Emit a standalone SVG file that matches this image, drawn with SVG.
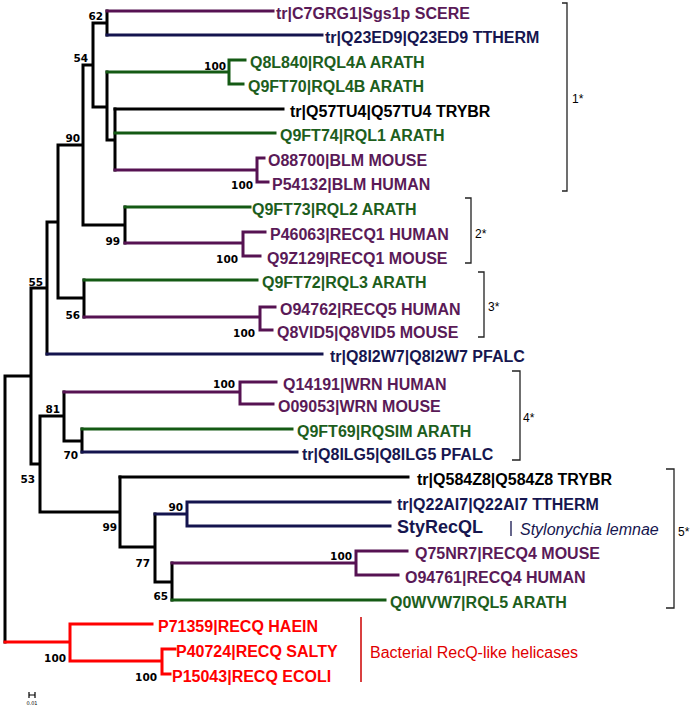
<svg xmlns="http://www.w3.org/2000/svg" width="692" height="710" viewBox="0 0 692 710">
<style>
.e{fill:none;stroke-width:3;stroke-linecap:square}
.k{stroke:#000}.p{stroke:#561252}.g{stroke:#145a14}.n{stroke:#14144e}.r{stroke:#ff0000}
.t{font-family:"Liberation Sans",Arial,sans-serif;font-weight:bold;font-size:16px}
.tp{fill:#5a1a57}.tg{fill:#1d5e1d}.tn{fill:#16164f}.tk{fill:#000}.tr{fill:#ff0000}
.b{font-family:"DejaVu Sans",sans-serif;font-weight:bold;font-size:10.5px;fill:#000;text-anchor:end}
.br{fill:none;stroke:#222;stroke-width:1.3}
.bl{font-family:"Liberation Sans",Arial,sans-serif;font-size:12px;fill:#000}
</style>
<rect width="692" height="710" fill="#fff"/>
<g id="connectors">
<path class="e k" d="M5,376V642M5,376H31M31,288V464M31,288H47M47,222V354M47,222H58M58,145V298M58,145H83M83,65V225M83,65H93M93,23V107M93,23H107M107,11V35M93,107H107M107,72V140M107,140H115M115,109V170M83,225H125M125,207V243M58,298H84M84,280V317M31,464H40M40,416V512M40,416H64M64,392V441M64,441H82M82,429V452M40,512H120M120,477V547M120,547H155M155,514V582M155,582H172M172,563V600"/>
<path class="e p" d="M107,11H273"/>
<path class="e n" d="M107,35H322"/>
<path class="e g" d="M107,72H229M229,60V84M229,60H245M229,84H243"/>
<path class="e k" d="M115,109H283"/>
<path class="e g" d="M115,133H275"/>
<path class="e p" d="M115,170H257M257,158V182M257,158H264M257,182H268"/>
<path class="e g" d="M125,207H250"/>
<path class="e p" d="M125,243H243M243,232V256M243,232H265M243,256H260"/>
<path class="e g" d="M84,280H257"/>
<path class="e p" d="M84,317H260M260,307V330M260,307H275M260,330H272"/>
<path class="e n" d="M47,354H322"/>
<path class="e p" d="M64,392H240M240,382V404M240,382H276M240,404H273"/>
<path class="e g" d="M82,429H292"/>
<path class="e n" d="M82,452H297"/>
<path class="e k" d="M120,477H408"/>
<path class="e n" d="M155,514H187M187,502V526M187,502H390M187,526H390"/>
<path class="e p" d="M172,563H356M356,551V575M356,551H407M356,575H398"/>
<path class="e g" d="M172,600H385"/>
<path class="e r" d="M5,642H70M70,624V661M70,624H152M70,661H162M162,649V674M162,649H175M162,674H170"/>
</g>
<g id="bootstrap">
<text class="b" x="103" y="20">62</text>
<text class="b" x="88" y="62">54</text>
<text class="b" x="80" y="142">90</text>
<text class="b" x="120" y="245">99</text>
<text class="b" x="43" y="286">55</text>
<text class="b" x="80" y="319">56</text>
<text class="b" x="60" y="413">81</text>
<text class="b" x="78" y="459">70</text>
<text class="b" x="35" y="483">53</text>
<text class="b" x="117" y="531">99</text>
<text class="b" x="150" y="567">77</text>
<text class="b" x="183" y="511">90</text>
<text class="b" x="168" y="600">65</text>
<text class="b" x="226" y="70">100</text>
<text class="b" x="253" y="189">100</text>
<text class="b" x="238" y="263">100</text>
<text class="b" x="255" y="337">100</text>
<text class="b" x="235" y="388">100</text>
<text class="b" x="352" y="560">100</text>
<text class="b" x="157" y="681">100</text>
<text class="b" x="66" y="662">100</text>
</g>
<g id="leaf-C7GRG1"><text class="t tp" x="276" y="19">tr|C7GRG1|Sgs1p SCERE</text></g>
<g id="leaf-Q23ED9"><text class="t tn" x="325" y="43">tr|Q23ED9|Q23ED9 TTHERM</text></g>
<g id="leaf-Q8L840"><text class="t tg" x="250" y="68">Q8L840|RQL4A ARATH</text></g>
<g id="leaf-Q9FT70"><text class="t tg" x="248" y="92">Q9FT70|RQL4B ARATH</text></g>
<g id="leaf-Q57TU4"><text class="t tk" x="290" y="117">tr|Q57TU4|Q57TU4 TRYBR</text></g>
<g id="leaf-Q9FT74"><text class="t tg" x="280" y="141">Q9FT74|RQL1 ARATH</text></g>
<g id="leaf-O88700"><text class="t tp" x="268" y="166">O88700|BLM MOUSE</text></g>
<g id="leaf-P54132"><text class="t tp" x="272" y="190">P54132|BLM HUMAN</text></g>
<g id="leaf-Q9FT73"><text class="t tg" x="252" y="215">Q9FT73|RQL2 ARATH</text></g>
<g id="leaf-P46063"><text class="t tp" x="270" y="240">P46063|RECQ1 HUMAN</text></g>
<g id="leaf-Q9Z129"><text class="t tp" x="267" y="264">Q9Z129|RECQ1 MOUSE</text></g>
<g id="leaf-Q9FT72"><text class="t tg" x="262" y="288">Q9FT72|RQL3 ARATH</text></g>
<g id="leaf-O94762"><text class="t tp" x="280" y="315">O94762|RECQ5 HUMAN</text></g>
<g id="leaf-Q8VID5"><text class="t tp" x="277" y="338">Q8VID5|Q8VID5 MOUSE</text></g>
<g id="leaf-Q8I2W7"><text class="t tn" x="330" y="362">tr|Q8I2W7|Q8I2W7 PFALC</text></g>
<g id="leaf-Q14191"><text class="t tp" x="283" y="390">Q14191|WRN HUMAN</text></g>
<g id="leaf-O09053"><text class="t tp" x="278" y="412">O09053|WRN MOUSE</text></g>
<g id="leaf-Q9FT69"><text class="t tg" x="297" y="437">Q9FT69|RQSIM ARATH</text></g>
<g id="leaf-Q8ILG5"><text class="t tn" x="302" y="460">tr|Q8ILG5|Q8ILG5 PFALC</text></g>
<g id="leaf-Q584Z8"><text class="t tk" x="417" y="485">tr|Q584Z8|Q584Z8 TRYBR</text></g>
<g id="leaf-Q22AI7"><text class="t tn" x="397" y="510">tr|Q22AI7|Q22AI7 TTHERM</text></g>
<g id="leaf-StyRecQL"><text class="t tn" x="397" y="533" style="font-size:18px">StyRecQL</text>
<path d="M511,521V536" stroke="#14144e" stroke-width="1.3"/>
<text x="520" y="535" font-family="Liberation Sans, Arial, sans-serif" font-style="italic" font-size="16" fill="#16164f">Stylonychia lemnae</text></g>
<g id="leaf-Q75NR7"><text class="t tp" x="415" y="559">Q75NR7|RECQ4 MOUSE</text></g>
<g id="leaf-O94761"><text class="t tp" x="405" y="583">O94761|RECQ4 HUMAN</text></g>
<g id="leaf-Q0WVW7"><text class="t tg" x="390" y="608">Q0WVW7|RQL5 ARATH</text></g>
<g id="leaf-P71359"><text class="t tr" x="158" y="632">P71359|RECQ HAEIN</text></g>
<g id="leaf-P40724"><text class="t tr" x="176" y="657">P40724|RECQ SALTY</text></g>
<g id="leaf-P15043"><text class="t tr" x="172" y="682">P15043|RECQ ECOLI</text></g>
<g id="bracket-1"><path class="br" d="M562,3H567V191H562"/><text class="bl" x="572" y="103">1*</text></g>
<g id="bracket-2"><path class="br" d="M465,198H471V263H465"/><text class="bl" x="475" y="238">2*</text></g>
<g id="bracket-3"><path class="br" d="M478,272H484V337H478"/><text class="bl" x="488" y="311">3*</text></g>
<g id="bracket-4"><path class="br" d="M512,371H520V460H512"/><text class="bl" x="523" y="422">4*</text></g>
<g id="bracket-5"><path class="br" d="M666,469H674V608H666"/><text class="bl" x="678" y="536">5*</text></g>
<g id="bacterial"><path d="M361,617V682" stroke="#cc0000" stroke-width="1.5"/>
<text x="370" y="658" font-family="Liberation Sans, Arial, sans-serif" font-size="16" fill="#e00000">Bacterial RecQ-like helicases</text></g>
<g id="scale"><path d="M29,692V698M35,692V698M29,695H35" stroke="#000" stroke-width="1.2" fill="none"/>
<text x="32" y="705" font-family="DejaVu Sans, sans-serif" font-size="5" text-anchor="middle" fill="#000">0.01</text></g>
</svg>
